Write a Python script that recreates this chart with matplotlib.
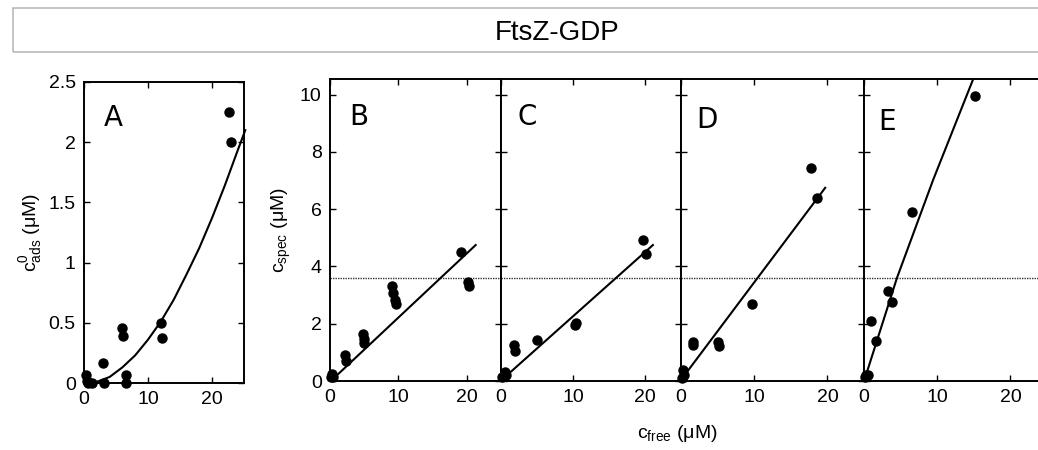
import matplotlib
matplotlib.use("Agg")
import matplotlib.pyplot as plt
from matplotlib.patches import Rectangle

plt.rcParams["font.family"] = ["Liberation Sans", "DejaVu Sans"]
plt.rcParams["mathtext.fontset"] = "custom"
plt.rcParams["mathtext.rm"] = "Liberation Sans"

# Panel A: adsorbed concentration vs free concentration
a_x = [0.3, 0.4, 0.7, 1.2, 2.9, 3.1, 6.0, 6.1, 6.5, 6.6, 12.0, 12.2, 22.6, 22.9]
a_y = [0.07, 0.02, 0.0, 0.0, 0.17, 0.0, 0.46, 0.39, 0.07, 0.0, 0.5, 0.37, 2.25, 2.0]
a_fit_x = [0.7, 2, 4, 6, 8, 10, 12, 14, 16, 18, 20, 22, 24, 25.2]
a_fit_y = [0.0, 0.01, 0.05, 0.13, 0.23, 0.36, 0.51, 0.69, 0.9, 1.12, 1.37, 1.64, 1.93, 2.1]

# Panels B-E: c_spec vs c_free
b_x = [0.1, 0.3, 0.5, 2.2, 2.3, 4.8, 4.9, 5.0, 9.0, 9.25, 9.5, 9.6, 19.2, 20.2, 20.3]
b_y = [0.15, 0.25, 0.15, 0.91, 0.7, 1.64, 1.48, 1.33, 3.33, 3.07, 2.84, 2.7, 4.52, 3.47, 3.32]
b_fit_x = [0.25, 21.3]
b_fit_y = [0.03, 4.75]

c_x = [0.2, 0.5, 0.7, 1.8, 2.0, 5.0, 10.3, 10.4, 19.7, 20.1]
c_y = [0.15, 0.3, 0.2, 1.25, 1.05, 1.43, 1.95, 2.02, 4.93, 4.44]
c_fit_x = [0.6, 21.1]
c_fit_y = [0.15, 4.75]

d_x = [0.1, 0.3, 0.4, 1.6, 1.7, 5.1, 5.2, 9.7, 17.7, 18.6]
d_y = [0.1, 0.4, 0.2, 1.35, 1.25, 1.37, 1.22, 2.7, 7.45, 6.4]
d_fit_x = [0.8, 19.7]
d_fit_y = [0.31, 6.75]

e_x = [0.1, 0.3, 0.6, 1.0, 1.6, 3.3, 3.8, 6.6, 15.1]
e_y = [0.15, 0.2, 0.2, 2.1, 1.4, 3.15, 2.75, 5.9, 9.95]
e_fit_x = [0.2, 4.5, 9.45, 15.0]
e_fit_y = [0.15, 3.6, 7.03, 10.6]

threshold = 3.6
panel_letters = ["B", "C", "D", "E"]

W, H = 1038, 450
fig = plt.figure(figsize=(W / 100, H / 100), dpi=100)


def px_axes(left, right, top, bottom):
    return fig.add_axes([left / W, 1 - bottom / H, (right - left) / W, (bottom - top) / H])


def style(ax):
    ax.tick_params(direction="in", length=4, width=1, top=True, right=True,
                   labelsize=14, pad=6)
    for s in ax.spines.values():
        s.set_linewidth(1.4)


# title box
fig.patches.append(Rectangle((13 / W, 1 - 52 / H), 1.05, 44 / H, transform=fig.transFigure,
                             fill=False, edgecolor="#b4b4b4", linewidth=1.1))
fig.text(557 / W, 1 - 33 / H, "FtsZ-GDP", ha="center", va="center", fontsize=20)

# panel A
axA = px_axes(84, 244, 82, 383)
axA.plot(a_x, a_y, "o", color="black", markersize=6.5, clip_on=False, zorder=3)
axA.plot(a_fit_x, a_fit_y, "-", color="black", linewidth=1.5, clip_on=False)
axA.set_xlim(0, 25)
axA.set_ylim(0, 2.5)
axA.set_xticks([0, 10, 20])
axA.set_yticks([0, 0.5, 1, 1.5, 2, 2.5])
axA.set_yticklabels(["0", "0.5", "1", "1.5", "2", "2.5"])
axA.set_ylabel(r"$\mathregular{c^0_{ads}}$ (μM)", fontsize=14, labelpad=3)
style(axA)
axA.text(0.18, 0.88, "A", transform=axA.transAxes, fontsize=20, ha="center", va="center",
         family="DejaVu Sans")

# panels B-E
edges = [(330, 501), (501, 681), (681, 864), (864, 1047)]
data = [(b_x, b_y, b_fit_x, b_fit_y), (c_x, c_y, c_fit_x, c_fit_y),
        (d_x, d_y, d_fit_x, d_fit_y), (e_x, e_y, e_fit_x, e_fit_y)]
letter_pos = [(359, 117), (527, 117), (707, 120), (887, 122)]

for i, ((l, r), (xs, ys, fx, fy), letter) in enumerate(zip(edges, data, panel_letters)):
    ax = px_axes(l, r, 79, 381)
    ax.axhline(threshold, color="#333333", linestyle=(0, (1, 0.8)), linewidth=1.0)
    ax.plot(xs, ys, "o", color="black", markersize=6.5, clip_on=False, zorder=3)
    ax.plot(fx, fy, "-", color="black", linewidth=1.5)
    ax.set_xlim(0, 25)
    ax.set_ylim(0, 10.55)
    ax.set_xticks([0, 10, 20])
    ax.set_yticks([0, 2, 4, 6, 8, 10])
    style(ax)
    if i == 0:
        ax.set_ylabel(r"$\mathregular{c_{spec}}$ (μM)", fontsize=14, labelpad=5)
    else:
        ax.set_yticklabels([])
    lx, ly = letter_pos[i]
    fig.text(lx / W, 1 - ly / H, letter, fontsize=20, ha="center", va="center",
             family="DejaVu Sans")

fig.text(677 / W, 1 - 433 / H, r"$\mathregular{c_{free}}$ (μM)", ha="center", va="center",
         fontsize=14)

fig.savefig("out.png", dpi=100)
